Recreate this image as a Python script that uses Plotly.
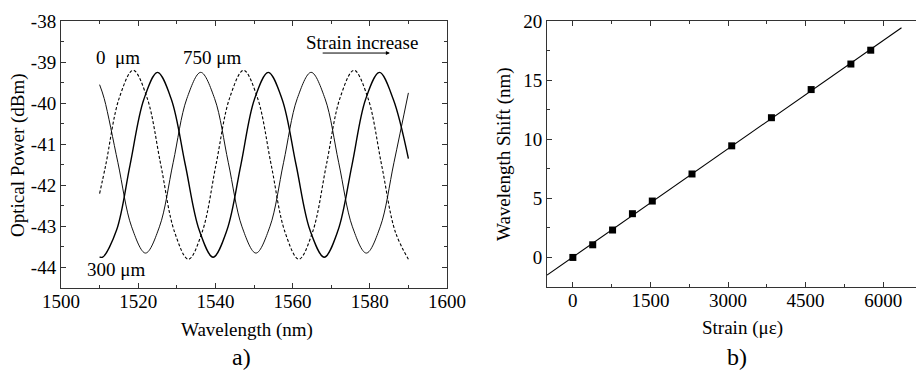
import numpy as np
import plotly.graph_objects as go

# ---------------- Panel a) data (read from picture) ----------------
wl_0um = [1510, 1511.6, 1515.1, 1518.7, 1522.3, 1525.85, 1529.4, 1533.0, 1536.6, 1540.15,
          1543.7, 1547.3, 1550.9, 1554.45, 1558.0, 1561.6, 1565.2, 1568.75, 1572.3, 1575.9,
          1579.5, 1583.05, 1586.6, 1590]
p_0um = [-42.2, -41.5, -39.87, -39.2, -39.87, -41.5, -43.13, -43.8, -43.13, -41.5,
         -39.87, -39.2, -39.87, -41.5, -43.13, -43.8, -43.13, -41.5, -39.87, -39.2,
         -39.87, -41.5, -43.13, -43.8]

wl_300um = [1510, 1510.8, 1514.4, 1517.9, 1521.45, 1525.0, 1528.6, 1532.2, 1535.8, 1539.4, 1543.0,
            1546.6, 1550.1, 1553.7, 1557.3, 1560.9, 1564.5, 1568.2, 1571.8, 1575.4, 1578.9,
            1582.5, 1586.1, 1590]
p_300um = [-43.74, -43.75, -43.09, -41.5, -39.91, -39.25, -39.91, -41.5, -43.09, -43.75, -43.09,
           -41.5, -39.91, -39.25, -39.91, -41.5, -43.09, -43.75, -43.09, -41.5, -39.91,
           -39.25, -39.91, -41.35]

wl_750um = [1510, 1511.2, 1514.75, 1518.3, 1521.9, 1525.5, 1529.05, 1532.6, 1536.2, 1539.8,
            1543.35, 1546.9, 1550.5, 1554.1, 1557.65, 1561.2, 1564.8, 1568.4, 1571.95, 1575.5,
            1579.1, 1582.7, 1586.25, 1590]
p_750um = [-39.55, -39.89, -41.45, -43.01, -43.65, -43.01, -41.45, -39.89, -39.25, -39.89,
           -41.45, -43.01, -43.65, -43.01, -41.45, -39.89, -39.25, -39.89, -41.45, -43.01,
           -43.65, -43.01, -41.45, -39.75]

a_xticks = [1500, 1520, 1540, 1560, 1580, 1600]
a_yticks = [-44, -43, -42, -41, -40, -39, -38]
a_yticklabels = ["-44", "-43", "-42", "-41", "-40", "-39", "-38"]

# ---------------- Panel b) data ----------------
strain = [0, 384, 768, 1152, 1536, 2304, 3072, 3840, 4608, 5376, 5760]
shift = [0.0, 1.07, 2.32, 3.70, 4.77, 7.06, 9.44, 11.82, 14.20, 16.36, 17.53]
fit_x_ends = [-500, 6355]

b_xticks = [0, 1500, 3000, 4500, 6000]
b_yticks = [0, 5, 10, 15, 20]

slope, intercept = np.polyfit(strain, shift, 1)
fit_x = np.array(fit_x_ends, dtype=float)
fit_y = slope * fit_x + intercept

FONT = "Liberation Serif, Times New Roman, serif"
FS = 19
AX = "#333333"

fig = go.Figure()

fig.add_trace(go.Scatter(x=wl_750um, y=p_750um, mode="lines",
                         line=dict(color="#111", width=1.0, shape="spline", smoothing=1.0),
                         xaxis="x", yaxis="y", showlegend=False))
fig.add_trace(go.Scatter(x=wl_300um, y=p_300um, mode="lines",
                         line=dict(color="#000", width=1.4, shape="spline", smoothing=1.0),
                         xaxis="x", yaxis="y", showlegend=False))
fig.add_trace(go.Scatter(x=wl_0um, y=p_0um, mode="lines",
                         line=dict(color="#000", width=1.1, dash="3px,2px", shape="spline", smoothing=1.0),
                         xaxis="x", yaxis="y", showlegend=False))

fig.add_trace(go.Scatter(x=fit_x, y=fit_y, mode="lines",
                         line=dict(color="#000", width=1.1),
                         xaxis="x2", yaxis="y2", showlegend=False))
fig.add_trace(go.Scatter(x=strain, y=shift, mode="markers",
                         marker=dict(symbol="square", size=7, color="#000"),
                         xaxis="x2", yaxis="y2", showlegend=False))

# page body has an 8px default margin, so the figure is offset by 8px
OFF = 8
W, H = 924 - OFF, 370 - OFF
def px_x(p):
    return (p - OFF) / W
def px_y(p):
    return 1 - (p - OFF) / H

common = dict(showgrid=False, zeroline=False, showline=True, linecolor=AX, linewidth=1,
              mirror="ticks", ticks="inside", ticklen=5, tickwidth=1, tickcolor=AX,
              automargin=False,
              tickfont=dict(family=FONT, size=FS, color="#000"))

fig.update_layout(
    template="none",
    width=W, height=H,
    margin=dict(l=0, r=0, t=0, b=0, autoexpand=False),
    paper_bgcolor="white", plot_bgcolor="white",
    font=dict(family=FONT, size=FS, color="#000"),
    xaxis=dict(domain=[px_x(61), px_x(447)], range=[1500, 1600], tickvals=a_xticks,
               ticklabelstandoff=-4,
               minor=dict(dtick=10, tick0=1500, ticks="inside", ticklen=3, tickcolor=AX),
               anchor="y", **common),
    yaxis=dict(domain=[px_y(288), px_y(21)], range=[-44.5, -38], tickvals=a_yticks,
               ticktext=a_yticklabels,
               minor=dict(dtick=0.5, tick0=-44, ticks="inside", ticklen=3, tickcolor=AX),
               anchor="x", **common),
    xaxis2=dict(domain=[px_x(547), px_x(924)], range=[-500, 6790], tickvals=b_xticks,
                ticklabelstandoff=-4,
                minor=dict(dtick=750, tick0=0, ticks="inside", ticklen=3, tickcolor=AX),
                anchor="y2", **common),
    yaxis2=dict(domain=[px_y(287), px_y(21)], range=[-2.5, 20], tickvals=b_yticks,
                minor=dict(dtick=2.5, tick0=0, ticks="inside", ticklen=3, tickcolor=AX),
                anchor="x2", **common),
)

ann = []
def txt(x, y, s, xref="paper", yref="paper", size=FS, angle=0):
    ann.append(dict(x=x, y=y, xref=xref, yref=yref, text=s, showarrow=False,
                    font=dict(family=FONT, size=size, color="#000"),
                    textangle=angle, xanchor="center", yanchor="middle"))

# axis titles & panel labels
txt(px_x(247), px_y(330), "Wavelength (nm)")
txt(px_x(18), px_y(155), "Optical Power (dBm)", angle=-90)
txt(px_x(241), px_y(357), "a)", size=24)
txt(px_x(742), px_y(328), "Strain (\u03bc\u03b5)")
txt(px_x(504), px_y(154), "Wavelength Shift (nm)", angle=-90)
txt(px_x(737), px_y(357), "b)", size=24)

# curve labels
txt(1514.8, -38.9, "0\u00a0 \u03bcm", xref="x", yref="y")
txt(1539.1, -38.9, "750 \u03bcm", xref="x", yref="y")
txt(1514.2, -44.05, "300 \u03bcm", xref="x", yref="y")
txt(1578.0, -38.53, "Strain increase", xref="x", yref="y")

ann.append(dict(x=1585.2, y=-38.78, ax=1567.4, ay=-38.78, xref="x", yref="y",
                axref="x", ayref="y", showarrow=True, arrowhead=2, arrowsize=0.8,
                arrowwidth=1, arrowcolor="#000", text=""))

fig.update_layout(annotations=ann)

fig.write_html("out.html")
